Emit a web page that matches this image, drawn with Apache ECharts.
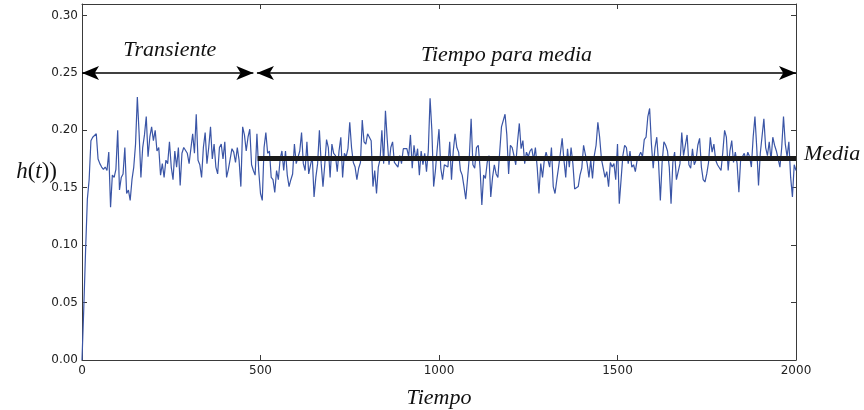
<!DOCTYPE html>
<html>
<head>
<meta charset="utf-8">
<script src="https://cdn.jsdelivr.net/npm/echarts@6/dist/echarts.min.js"></script>
<style>
html,body{margin:0;padding:0;background:#fff;}
#chart{width:864px;height:410px;}
</style>
</head>
<body>
<div id="chart"></div>
<script>
var STEP = 5;
var hSeg1 = [0,0.045,0.095,0.14,0.157,0.191,0.194,0.193,0.197,0.175,0.171,0.168,0.166,0.168,0.165,0.181,0.133,0.161,0.159,0.166,0.200,0.148,0.159,0.162,0.185,0.145,0.148,0.139,0.157,0.168,0.188,0.229,0.197,0.159,0.185,0.196,0.212,0.177,0.194,0.203,0.191,0.200,0.182,0.185,0.161,0.171,0.159,0.174,0.171,0.190,0.168,0.157,0.182,0.168,0.185,0.152,0.180,0.185,0.185,0.180,0.171,0.171,0.197,0.180,0.214,0.174,0.170,0.159,0.185,0.198,0.171,0.185,0.203,0.175,0.188,0.168,0.162,0.185,0.188,0.175,0.190,0.159,0.166,0.175,0.184,0.181,0.172,0.185,0.174,0.151,0.203,0.196,0.182,0.194,0.201,0.170,0.165,0.161,0.197,0.165];
var hSeg2 = [0.145,0.139,0.185,0.198,0.180,0.182,0.159,0.157,0.146,0.165,0.157,0.175,0.182,0.165,0.182,0.161,0.151,0.157,0.162,0.188,0.171,0.171,0.182,0.198,0.171,0.165,0.190,0.162,0.162,0.177,0.142,0.159,0.171,0.200,0.171,0.151,0.170,0.192,0.185,0.159,0.188,0.180,0.178,0.164,0.182,0.194,0.159,0.180,0.177,0.184,0.207,0.185,0.172,0.168,0.157,0.167,0.172,0.209,0.190,0.188,0.197,0.194,0.191,0.151,0.165,0.145,0.168,0.175,0.200,0.171,0.217,0.192,0.170,0.185,0.190,0.172,0.172,0.168,0.178,0.171,0.184,0.185,0.184,0.177,0.196,0.167,0.187,0.174,0.184,0.161,0.182,0.170,0.180,0.164,0.182,0.228,0.200,0.151,0.165,0.184];
var hSeg3 = [0.201,0.167,0.157,0.170,0.171,0.168,0.190,0.157,0.182,0.197,0.185,0.181,0.165,0.161,0.151,0.140,0.158,0.177,0.210,0.170,0.167,0.185,0.187,0.167,0.135,0.161,0.158,0.172,0.178,0.142,0.159,0.170,0.162,0.159,0.159,0.203,0.203,0.214,0.196,0.162,0.187,0.185,0.178,0.170,0.190,0.206,0.184,0.191,0.171,0.181,0.177,0.182,0.184,0.174,0.185,0.168,0.145,0.171,0.159,0.174,0.181,0.181,0.168,0.185,0.151,0.145,0.157,0.168,0.180,0.193,0.174,0.159,0.184,0.168,0.185,0.171,0.149,0.148,0.151,0.161,0.167,0.187,0.187,0.171,0.159,0.174,0.158,0.178,0.187,0.207,0.194,0.175,0.167,0.159,0.164,0.151,0.172,0.168,0.171,0.157];
var hSeg4 = [0.188,0.136,0.157,0.178,0.187,0.185,0.171,0.182,0.168,0.170,0.164,0.174,0.174,0.181,0.177,0.192,0.194,0.212,0.219,0.188,0.167,0.185,0.194,0.172,0.139,0.172,0.190,0.187,0.182,0.168,0.136,0.172,0.181,0.157,0.157,0.171,0.198,0.178,0.178,0.196,0.170,0.167,0.184,0.170,0.174,0.187,0.193,0.168,0.157,0.155,0.162,0.172,0.194,0.181,0.188,0.174,0.170,0.170,0.165,0.181,0.200,0.194,0.165,0.182,0.191,0.172,0.181,0.171,0.146,0.175,0.177,0.180,0.174,0.181,0.177,0.168,0.194,0.212,0.185,0.152,0.180,0.180,0.210,0.185,0.178,0.190,0.174,0.194,0.187,0.182,0.182,0.168,0.185,0.212,0.188,0.177,0.190,0.159,0.142,0.170,0.165];

var xTicks = [0, 500, 1000, 1500, 2000];
var yTicks = [0, 0.05, 0.10, 0.15, 0.20, 0.25, 0.30];

var meanValue = 0.1755;
var meanRange = [492, 2000];
var transientRange = [0, 480];
var averagingRange = [490, 2000];
var arrowLevel = 0.25;
var transientLabelPos = [246, 0.2696];
var averagingLabelPos = [1189, 0.2652];

var hValues = hSeg1.concat(hSeg2, hSeg3, hSeg4);
var hData = hValues.map(function (v, i) { return [i * STEP, v]; });

var serif = 'Liberation Serif';
var sans = 'DejaVu Sans';
var frame = '#3a3a3a';

function arrowEnd(t, v) {
  return { coord: [t, v], symbol: 'arrow', symbolSize: [10.5, 17], symbolOffset: [0, 0] };
}

var chart = echarts.init(document.getElementById('chart'), null, { renderer: 'canvas' });

var axisCommonX = {
  type: 'value', min: xTicks[0], max: xTicks[xTicks.length - 1], interval: 500,
  splitLine: { show: false },
  axisLine: { show: true, onZero: false, lineStyle: { color: frame, width: 1 } },
  axisTick: { show: true, inside: true, length: 5, lineStyle: { color: frame, width: 1 } }
};
var axisCommonY = {
  type: 'value', min: 0, max: 0.31, interval: 0.05,
  splitLine: { show: false },
  axisLine: { show: true, onZero: false, lineStyle: { color: frame, width: 1 } },
  axisTick: { show: true, inside: true, length: 5, lineStyle: { color: frame, width: 1 } }
};

chart.setOption({
  animation: false,
  backgroundColor: '#fff',
  grid: { left: 82, right: 68, top: 4, bottom: 50, containLabel: false, outerBoundsMode: 'none' },
  xAxis: [
    Object.assign({}, axisCommonX, {
      position: 'bottom',
      axisLabel: {
        show: true, fontFamily: sans, fontSize: 12, color: '#222', margin: 5,
        formatter: function (v) { return String(v); }
      },
      name: 'Tiempo', nameLocation: 'middle', nameGap: 27,
      nameTextStyle: { fontFamily: serif, fontStyle: 'italic', fontSize: 22, color: '#111' }
    }),
    Object.assign({}, axisCommonX, { position: 'top', axisLabel: { show: false } })
  ],
  yAxis: [
    Object.assign({}, axisCommonY, {
      position: 'left',
      axisLabel: {
        show: true, fontFamily: sans, fontSize: 12, color: '#222', margin: 4,
        showMaxLabel: false,
        formatter: function (v) { return v.toFixed(2); }
      },
      name: '{i|h}{r|(}{i|t}{r|))}', nameLocation: 'middle', nameRotate: 0, nameGap: 25,
      nameMoveOverlap: false,
      nameTextStyle: {
        padding: [0, 0, 20, 0],
        rich: {
          i: { fontFamily: serif, fontStyle: 'italic', fontSize: 23, color: '#111' },
          r: { fontFamily: serif, fontSize: 23, color: '#111' }
        }
      }
    }),
    Object.assign({}, axisCommonY, { position: 'right', axisLabel: { show: false } })
  ],
  series: [
    {
      type: 'line',
      name: 'h(t)',
      xAxisIndex: 0, yAxisIndex: 0,
      data: hData,
      showSymbol: false,
      symbol: 'none',
      clip: false,
      lineStyle: { color: '#3a55a6', width: 1.2 },
      itemStyle: { color: '#3a55a6' },
      markLine: {
        silent: true,
        animation: false,
        itemStyle: { color: '#000' },
        label: { show: false },
        data: [
          [
            Object.assign(arrowEnd(transientRange[0], arrowLevel), {
              lineStyle: { color: '#000', width: 1.6, type: 'solid' }
            }),
            arrowEnd(transientRange[1], arrowLevel)
          ],
          [
            Object.assign(arrowEnd(averagingRange[0], arrowLevel), {
              lineStyle: { color: '#000', width: 1.6, type: 'solid' }
            }),
            arrowEnd(averagingRange[1], arrowLevel)
          ],
          [
            {
              coord: [meanRange[0], meanValue], symbol: 'none',
              lineStyle: { color: '#1a1a1a', width: 5, type: 'solid', cap: 'butt' },
              label: {
                show: true, position: 'end', distance: 8, formatter: 'Media',
                fontFamily: serif, fontStyle: 'italic', fontSize: 22, color: '#111',
                offset: [0, -4]
              }
            },
            { coord: [meanRange[1], meanValue], symbol: 'none' }
          ]
        ]
      },
      markPoint: {
        silent: true,
        animation: false,
        symbol: 'circle',
        symbolSize: 0,
        itemStyle: { color: 'transparent' },
        label: {
          show: true, position: 'inside',
          fontFamily: serif, fontStyle: 'italic', fontSize: 22, color: '#111'
        },
        data: [
          { coord: transientLabelPos, label: { formatter: 'Transiente' } },
          { coord: averagingLabelPos, label: { formatter: 'Tiempo para media' } }
        ]
      }
    }
  ]
});
</script>
</body>
</html>
